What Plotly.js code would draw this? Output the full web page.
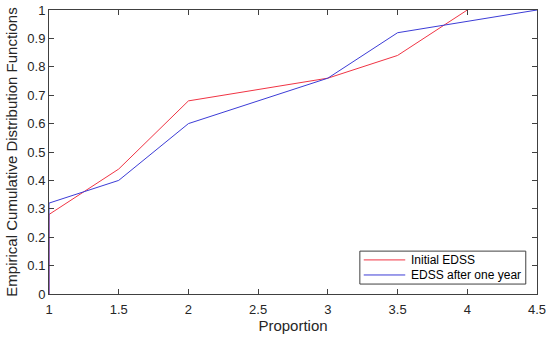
<!DOCTYPE html>
<html>
<head>
<meta charset="utf-8">
<script src="https://cdn.plot.ly/plotly-3.0.1.min.js"></script>
<style>html,body{margin:0;padding:0;background:#fff;}#chart{width:550px;height:339px;}</style>
</head>
<body>
<div id="chart"></div>
<script>
const seriesNames = ['Initial EDSS', 'EDSS after one year'];
const initialX = [1, 1, 1.5, 2, 3, 3.5, 4];
const initialY = [0, 0.28, 0.44, 0.68, 0.76, 0.84, 1];
const afterX = [1, 1, 1.5, 2, 3, 3.5, 4.5];
const afterY = [0, 0.32, 0.40, 0.60, 0.76, 0.92, 1];
const xTicks = [1, 1.5, 2, 2.5, 3, 3.5, 4, 4.5];
const yTicks = [0, 0.1, 0.2, 0.3, 0.4, 0.5, 0.6, 0.7, 0.8, 0.9, 1];
const colors = ['#f03444', '#3c3cd6'];

const traces = [
  {x: initialX, y: initialY, mode: 'lines', name: seriesNames[0], line: {color: colors[0], width: 1}},
  {x: afterX, y: afterY, mode: 'lines', name: seriesNames[1], line: {color: colors[1], width: 1}}
];
const axisCommon = {
  showgrid: false, zeroline: false, showline: true, mirror: 'ticks',
  linecolor: '#404040', linewidth: 1, ticks: 'inside', ticklen: 5, tickcolor: '#404040',
  tickfont: {size: 13, color: '#262626'}
};
// custom compact legend (box, line samples, labels)
const legX0 = 0.637, legX1 = 0.977, legY0 = 0.035, legY1 = 0.151;
const rowY = [0.120, 0.067];
const shapes = [{type: 'rect', xref: 'paper', yref: 'paper', x0: legX0, x1: legX1, y0: legY0, y1: legY1,
  line: {color: '#404040', width: 1}, fillcolor: '#fff', layer: 'above'}];
const annotations = [];
seriesNames.forEach((n, i) => {
  shapes.push({type: 'line', xref: 'paper', yref: 'paper', x0: 0.645, x1: 0.730, y0: rowY[i], y1: rowY[i],
    line: {color: colors[i], width: 1}, layer: 'above'});
  annotations.push({xref: 'paper', yref: 'paper', x: 0.738, y: rowY[i], xanchor: 'left', yanchor: 'middle',
    text: n, showarrow: false, font: {size: 12, color: '#000'}});
});
const layout = {
  width: 550, height: 339,
  margin: {l: 49, r: 13, t: 10, b: 45},
  paper_bgcolor: '#fff', plot_bgcolor: '#fff',
  font: {family: 'Liberation Sans, Arial, sans-serif', color: '#262626'},
  showlegend: false,
  shapes: shapes, annotations: annotations,
  xaxis: Object.assign({}, axisCommon, {range: [1, 4.5], tickvals: xTicks, ticktext: xTicks.map(String),
    ticklabelstandoff: 3,
    title: {text: 'Proportion', font: {size: 15, color: '#262626'}, standoff: 4}}),
  yaxis: Object.assign({}, axisCommon, {range: [0, 1], tickvals: yTicks, ticktext: yTicks.map(String),
    title: {text: 'Empirical Cumulative Distribution Functions', font: {size: 15, color: '#262626'}, standoff: 6}})
};
Plotly.newPlot('chart', traces, layout, {displayModeBar: false, staticPlot: true});
</script>
</body>
</html>
